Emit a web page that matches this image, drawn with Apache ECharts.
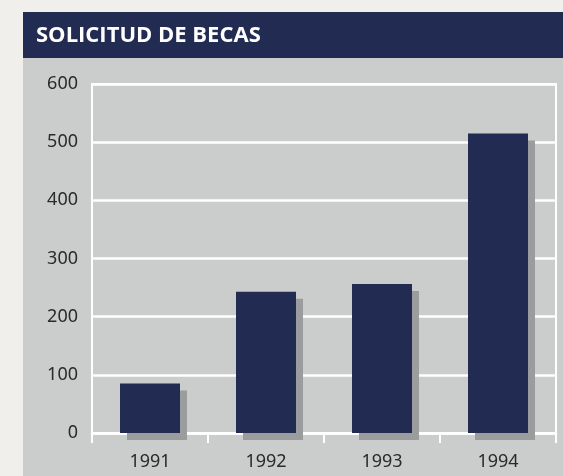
<!DOCTYPE html>
<html>
<head>
<meta charset="utf-8">
<script src="https://cdn.jsdelivr.net/npm/echarts@6/dist/echarts.min.js"></script>
<style>
  html, body { margin: 0; padding: 0; background: #f0efeb; }
  #chart { width: 563px; height: 476px; }
</style>
</head>
<body>
<div id="chart"></div>
<script>
// Solicitud de becas por año
const years = ['1991', '1992', '1993', '1994'];
const solicitudes = [85, 243, 256, 515];
const yTicks = { min: 0, max: 600, step: 100 };

const navy = '#222c52';
const panelGray = '#cbcccc';

const chart = echarts.init(document.getElementById('chart'));

chart.setOption({
  animation: false,
  backgroundColor: '#f0efeb',
  graphic: [
    // panel gris de fondo
    { type: 'rect', z: -10, shape: { x: 23, y: 58, width: 540, height: 418 }, style: { fill: panelGray } },
    // barra de título
    { type: 'rect', z: -10, shape: { x: 23, y: 12, width: 540, height: 46 }, style: { fill: navy } },
  ],
  title: {
    text: 'SOLICITUD DE BECAS',
    left: 31,
    top: 20,
    textStyle: { color: '#ffffff', fontSize: 22, fontWeight: 'bold', fontFamily: 'Open Sans' },
  },
  grid: { left: 92, right: 7, top: 84, bottom: 43, show: true, borderColor: '#ffffff', borderWidth: 2 },
  xAxis: {
    type: 'category',
    data: years,
    axisLine: { lineStyle: { color: '#ffffff', width: 2.5 } },
    axisTick: { show: true, length: 10, lineStyle: { color: '#ffffff', width: 2 } },
    axisLabel: { color: '#2a2a2a', fontSize: 18, fontFamily: 'Noto Sans', margin: 20 },
  },
  yAxis: {
    type: 'value',
    min: yTicks.min,
    max: yTicks.max,
    interval: yTicks.step,
    axisLine: { show: true, lineStyle: { color: '#ffffff', width: 2 } },
    axisTick: { show: false },
    splitLine: { lineStyle: { color: '#ffffff', width: 2.5 } },
    axisLabel: { color: '#2a2a2a', fontSize: 18, fontFamily: 'Noto Sans', margin: 14 },
  },
  series: [{
    type: 'bar',
    data: solicitudes,
    barWidth: 60,
    itemStyle: {
      color: navy,
      shadowColor: '#9b9c9d',
      shadowBlur: 0,
      shadowOffsetX: 7,
      shadowOffsetY: 7,
    },
  }],
});
</script>
</body>
</html>
